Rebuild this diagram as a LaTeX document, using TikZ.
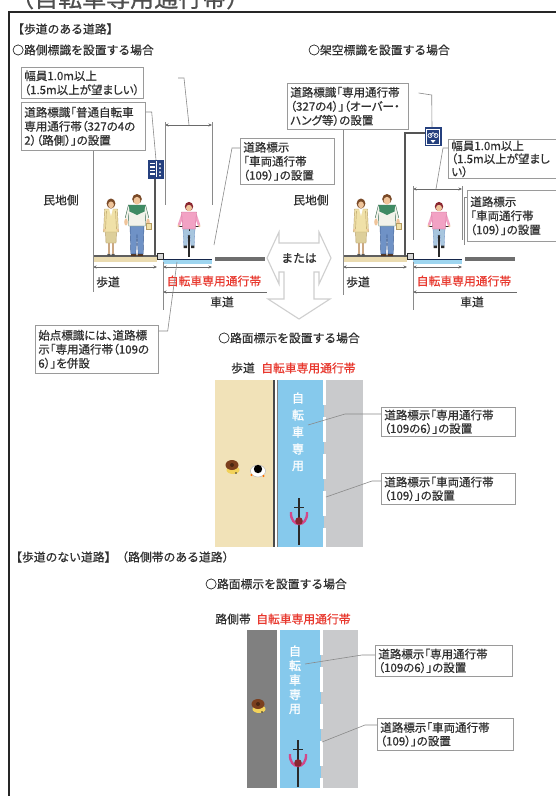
\documentclass[tikz,border=0pt]{standalone}
\usepackage{fontspec}
\setmainfont{Noto Sans CJK JP}[FakeBold=0.6]
\newfontfamily\pfont{Noto Sans CJK JP}[RawFeature=+palt,FakeBold=0.6]
\newfontfamily\lanefont{Noto Sans CJK JP}[FakeBold=1.5]
\usetikzlibrary{arrows.meta,calc}

\definecolor{ink}{HTML}{303030}
\definecolor{redtxt}{HTML}{E8382E}
\definecolor{boxline}{HTML}{9A9A9A}
\definecolor{leadgray}{HTML}{8A8A8A}
\definecolor{dimgray}{HTML}{6A6A6A}
\definecolor{frameink}{HTML}{262626}
\definecolor{walktan}{HTML}{F1E2B8}
\definecolor{sidetan}{HTML}{EADBB0}
\definecolor{lanesky}{HTML}{86C9EC}
\definecolor{lanesec}{HTML}{9FD6F0}
\definecolor{roadgray}{HTML}{C9CACC}
\definecolor{roaddark}{HTML}{6E6E6E}
\definecolor{shoulder}{HTML}{808080}
\definecolor{arrowgray}{HTML}{CFCFCF}
\definecolor{signnavy}{HTML}{25407E}
\definecolor{skin}{HTML}{EFC49A}
\definecolor{hairbrown}{HTML}{7A4A28}
\definecolor{hairred}{HTML}{8A2630}
\definecolor{jacket}{HTML}{F0E1A8}
\definecolor{jacketline}{HTML}{B59C62}
\definecolor{shirt}{HTML}{F2F2EA}
\definecolor{shirtgreen}{HTML}{3F8A64}
\definecolor{jeans}{HTML}{6F92C6}
\definecolor{jeansline}{HTML}{3D5D92}
\definecolor{jeanslt}{HTML}{A8C6DE}
\definecolor{pinkshirt}{HTML}{F2A2C4}
\definecolor{pinkline}{HTML}{C8688F}
\definecolor{bikeblack}{HTML}{2A2A2A}
\definecolor{armpink}{HTML}{D2488A}
\definecolor{hatbrown}{HTML}{7B3F1E}
\definecolor{capeyellow}{HTML}{F2D25A}

\tikzset{
  % standing woman, origin at her feet
  woman/.pic={
    \fill[bikeblack!80] (-3.6,-2.2) rectangle (-0.6,0) (0.6,-2.2) rectangle (3.6,0);
    \draw[skin!85!black, line width=1.5pt] (-1.9,-14) -- (-1.9,-2) (1.9,-14) -- (1.9,-2);
    \filldraw[fill=jacket!92!black, draw=jacketline, line width=0.4pt]
      (-5.6,-27) -- (5.6,-27) -- (5,-13) -- (-5,-13) -- cycle;
    \filldraw[fill=jacket, draw=jacketline, line width=0.4pt]
      (-6.4,-47) -- (6.4,-47) -- (7.4,-24) -- (-7.4,-24) -- cycle;
    \draw[jacketline, line width=0.4pt] (-4.6,-45) -- (-5.4,-27) (4.6,-45) -- (5.4,-27);
    \fill[white] (-1.8,-47) -- (1.8,-47) -- (0,-40) -- cycle;
    \fill[skin] (-6.6,-26) circle (1.3) (6.6,-26) circle (1.3);
    \fill[hairbrown] (0,-52.5) ellipse (4.4 and 5);
    \fill[skin] (0,-51.2) ellipse (2.9 and 3.4);
  },
  % standing man, origin at his feet
  man/.pic={
    \fill[hairbrown!70!black] (-6,-2.4) rectangle (-0.6,0) (0.6,-2.4) rectangle (6,0);
    \filldraw[fill=jeans, draw=jeansline, line width=0.4pt]
      (-7,-31) -- (7,-31) -- (6.2,-2.2) -- (1.2,-2.2) -- (0,-22) -- (-1.2,-2.2) -- (-6.2,-2.2) -- cycle;
    \filldraw[fill=shirt, draw=shirtgreen!70!black, line width=0.4pt]
      (-8.6,-51) -- (8.6,-51) -- (8.2,-30) -- (-8.2,-30) -- cycle;
    \fill[shirtgreen] (-8.6,-51) -- (8.6,-51) -- (8.4,-45) -- (0,-41) -- (-8.4,-45) -- cycle;
    \fill[shirt] (-8.6,-51) -- (-11.8,-38) -- (-9.6,-37) -- (-7.6,-46) -- cycle;
    \fill[shirt] (8.6,-51) -- (11.8,-38) -- (9.6,-37) -- (7.6,-46) -- cycle;
    \draw[shirtgreen!70!black, line width=0.4pt] (-8.6,-51) -- (-11.8,-38) (8.6,-51) -- (11.8,-38);
    \fill[skin] (-11,-34) ellipse (1.8 and 3.5) (11,-34) ellipse (1.8 and 3.5);
    \filldraw[fill=jacket, draw=jacketline, line width=0.3pt] (9.5,-33) rectangle (14,-27);
    \fill[hairbrown] (0,-57) ellipse (4.8 and 5);
    \fill[skin] (0,-55.3) ellipse (3.4 and 3.9);
  },
  % cyclist seen from the front, origin at the wheel contact point
  cyclist/.pic={
    \draw[bikeblack, line width=1.8pt] (0,-24) -- (0,0);
    \fill[bikeblack] (-1.5,-27) rectangle (1.5,-23);
    \filldraw[fill=jeanslt, draw=jeans, line width=0.3pt]
      (-6,-29) -- (6,-29) -- (5.2,-11) -- (2,-11) -- (1.2,-22) -- (-1.2,-22) -- (-2,-11) -- (-5.2,-11) -- cycle;
    \fill[bikeblack] (-5.4,-11.5) rectangle (-2,-9) (2,-11.5) rectangle (5.4,-9);
    \draw[bikeblack, line width=0.9pt] (-11,-31) -- (11,-31);
    \draw[bikeblack, line width=0.8pt] (0,-31) -- (0,-26);
    \draw[pinkshirt, line width=2.6pt, line cap=round] (-6.2,-43) -- (-10,-32) (6.2,-43) -- (10,-32);
    \filldraw[fill=pinkshirt, draw=pinkline, line width=0.3pt]
      (-7.4,-45) -- (7.4,-45) -- (6.4,-28) -- (-6.4,-28) -- cycle;
    \fill[skin] (-10.4,-31) circle (1.3) (10.4,-31) circle (1.3);
    \fill[hairred] (0,-50.5) ellipse (4.2 and 4.6);
    \fill[skin] (0,-49) ellipse (3 and 3.2);
  },
  % cyclist seen from above, origin at the body
  ridertop/.pic={
    \draw[bikeblack, line width=1.3pt] (0,-22) -- (0,25);
    \draw[bikeblack, line width=1pt] (-5,-13) -- (5,-13);
    \draw[armpink, line width=2.4pt] (-8,-8) .. controls (-9,8) and (9,8) .. (8,-8);
    \fill[hairred] (0,1) circle (3.8);
  },
  % pedestrian with a brown hat seen from above
  hattop/.pic={
    \fill[capeyellow] (1,5) ellipse (6.5 and 4);
    \fill[hatbrown] (0,0) ellipse (6.5 and 5);
    \fill[hatbrown!60!black] (0,0) circle (2);
    \fill[bikeblack] (4,8) circle (0.9);
  },
}

\begin{document}
\begin{tikzpicture}[x=1pt,y=-1pt,
  lbl/.style={font=\fontsize{11.8}{14}\selectfont, text=ink, inner sep=0pt},
  redlbl/.style={lbl, text=redtxt},
  notebox/.style={draw=boxline, line width=0.7pt, fill=white, anchor=north west, align=left,
    inner xsep=3pt, inner ysep=0pt, font=\pfont\fontsize{11.5}{14}\selectfont, text=ink},
  leadline/.style={draw=leadgray, line width=0.6pt},
  dimline/.style={draw=dimgray, line width=0.6pt},
  dimboth/.style={dimline, {Stealth[length=3.5pt,width=3pt]}-{Stealth[length=3.5pt,width=3pt]}},
  dimleft/.style={dimline, {Stealth[length=3.5pt,width=3pt]}-},
  lanetxt/.style={font=\lanefont\fontsize{12}{12}\selectfont, text=white, inner sep=0pt},
  pole/.style={draw=bikeblack!80, line width=1.6pt},
]
\useasboundingbox (0,0) rectangle (556,796);
\fill[white] (0,0) rectangle (556,796);

% page title running off the top edge
\begin{scope}
  \clip (0,0) rectangle (556,796);
  \node[anchor=base west, inner sep=0pt, font=\fontsize{24}{24}\selectfont, text=ink!85]
    (title) at (10,7) {（自転車専用通行帯）};
\end{scope}

% frame
\draw[frameink, line width=1.6pt] (556,12) -- (9,12) -- (9,796);

% section headings
\node[lbl, anchor=west] (secA) at (12,29) {【歩道のある道路】};
\node[lbl, anchor=west] (caseA1) at (12,50) {○路側標識を設置する場合};
\node[lbl, anchor=west] (caseA2) at (308,50) {○架空標識を設置する場合};
\node[lbl, anchor=west] (caseA3) at (218,338) {○路面標示を設置する場合};
\node[lbl, anchor=west] (secB) at (10,557) {【歩道のない道路】（路側帯のある道路）};
\node[lbl, anchor=west] (caseB1) at (205,584) {○路面標示を設置する場合};

% the two cross sections share ground, people and dimensions
\foreach \dx/\s in {0/L,250/R}{
  \begin{scope}[xshift=\dx]
    \fill[sidetan] (93,256) rectangle (157,262);
    \draw[bikeblack!75, line width=1.2pt] (93,256) -- (157,256);
    \filldraw[fill=white!85!black, draw=bikeblack, line width=0.5pt] (157,253) rectangle (163,259);
    \fill[lanesec] (163,259) rectangle (212,264);
    \draw[signnavy!60!black, line width=0.7pt] (163,259) -- (212,259);
    \fill[roaddark] (215,257) rectangle (265,261);
    \pic at (111,256) {woman};
    \pic at (137,256) {man};
    \pic at (189,257) {cyclist};
    \coordinate (swa\s) at (93,267);
    \coordinate (swb\s) at (157,267);
    \coordinate (bla\s) at (163,267);
    \coordinate (blb\s) at (212,267);
    \coordinate (rda\s) at (163,292);
    \coordinate (rdb\s) at (267,292);
    \coordinate (exa\s) at (163,262);
    \coordinate (exb\s) at (163,310);
    \draw[dimboth] (swa\s) -- (swb\s);
    \draw[dimboth] (bla\s) -- (blb\s);
    \draw[leadline] (exa\s) -- (exb\s);
    \draw[dimleft] (rda\s) -- (rdb\s);
    \node[lbl] (hodo\s) at (108,282) {歩道};
    \node[redlbl] (lane\s) at (214,281) {自転車専用通行帯};
    \node[lbl] (shado\s) at (222,302) {車道};
    \node[lbl] (minchi\s) at (61,200) {民地側};
  \end{scope}
}

% ---- roadside sign (left cross section)
\draw[pole] (155,179) -- (155,256);
\node[fill=signnavy, minimum width=16pt, minimum height=19pt, inner sep=0pt] (signL) at (156,169) {};
\begin{scope}[shift={(signL.center)}]
  \foreach \yy in {-6.5,-3,0.5,4} \fill[white] (-6,\yy) rectangle (-1.5,\yy+1.8);
  \draw[white, line width=0.6pt] (0.5,-8) -- (0.5,8);
  \foreach \yy in {-5,-1,3,6.5} \fill[white] (4,\yy) circle (1);
\end{scope}

% width of the cycle lane (left)
\coordinate (wdLa) at (165,125);
\coordinate (wdLb) at (212,125);
\coordinate (wdL) at (189,125);
\draw[dimboth] (wdLa) -- (wdLb);
\draw[leadline] (165,122) -- (165,205);
\draw[leadline] (212,122) -- (212,205);

% note boxes, left cross section
\node[notebox, text width=116pt, minimum height=31pt] (b1) at (21,67)
  {幅員1.0m以上\\（1.5m以上が望ましい）};
\node[notebox, text width=118pt, minimum height=48pt] (b2) at (21,102)
  {道路標識「普通自転車\\専用通行帯（327の4の\\2）（路側）」の設置};
\node[notebox, text width=88pt, minimum height=46pt] (b3) at (240,138)
  {道路標示\\「車両通行帯\\（109）」の設置};
\node[notebox, text width=117pt, minimum height=48pt] (b4) at (35,325)
  {始点標識には、道路標\\示「専用通行帯（109の\\6）」を併設};

\coordinate (l1s) at (178,78);
\draw[leadline] (l1s) -- (184,78) -- (wdL);
\coordinate (signLtop) at (156,160);
\draw[leadline] ($(b2.north east)+(0,10)$) -- ++(6,0) -- (signLtop);
\coordinate (wallL) at (93,292);
\draw[leadline] (b2.south -| wallL) -- (wallL);
\coordinate (laneEdgeL) at (214,245);
\draw[leadline] ($(b3.north west)+(0,10)$) -- ++(-8,0) -- (laneEdgeL);
\coordinate (laneStartL) at (177,262);
\draw[leadline] ($(b4.north east)+(0,6)$) -- ++(9,0) -- (laneStartL);

% ---- overhead sign (right cross section)
\coordinate (armEnd) at (425,133);
\draw[pole] (405,257) -- (405,133) -- (armEnd);
\node[fill=signnavy, minimum width=17pt, minimum height=19pt, inner sep=0pt] (signR) at (433,136.5) {};
\begin{scope}[shift={(signR.center)}]
  \draw[white, line width=0.6pt] (-6.5,-7.5) rectangle (6.5,7.5);
  \draw[white, line width=0.7pt] (-3,-1) circle (2) (3,-1) circle (2);
  \draw[white, line width=0.7pt] (-3,-1) -- (0,-4) -- (3,-1);
  \fill[white] (-2.5,3.5) -- (2.5,3.5) -- (0,6.5) -- cycle;
\end{scope}

\node[notebox, text width=115pt, minimum height=46pt] (b5) at (287,83)
  {道路標識「専用通行帯\\（327の4）」（オーバー・\\ハング等）の設置};
\node[notebox, text width=114pt, minimum height=39pt, font=\pfont\fontsize{11.5}{13}\selectfont] (b6) at (448,139)
  {幅員1.0m以上\\（1.5m以上が望まし\\い）};
\node[notebox, text width=83pt, minimum height=51pt] (b7) at (467,190)
  {道路標示\\「車両通行帯\\（109）」の設置};

\coordinate (signRtop) at (432,127);
\draw[leadline] ($(b5.north east)+(10,10)$) -- ++(13,2) -- (signRtop);
\coordinate (wallR) at (343,295);
\draw[leadline] (b5.south -| wallR) -- (wallR);
\coordinate (wdRa) at (413,189);
\coordinate (wdRb) at (462,189);
\coordinate (wdR) at (436,189);
\draw[dimboth] (wdRa) -- (wdRb);
\draw[leadline] (413,186) -- (413,240);
\draw[leadline] (462,186) -- (462,240);
\draw[leadline] ($(b6.north west)+(0,9)$) -- ++(-5,0) -- (wdR);
\coordinate (laneEdgeR) at (464,245);
\draw[leadline] ($(b7.north west)+(0,7)$) -- ++(-3,0) -- (laneEdgeR);

% ---- "or" arrow between the cross sections and down to the plans
\draw[arrowgray, line width=1.1pt, fill=white, line join=miter]
  (267,258) -- (279,232) -- (279,243) -- (319,243) -- (319,232) -- (331,258)
  -- (319,284) -- (319,272) -- (314,272) -- (314,299) -- (330,299) -- (299,319)
  -- (268,299) -- (284,299) -- (284,272) -- (279,272) -- (279,284) -- cycle;
\node[lbl] (mataha) at (299,258) {または};

% ---- plan with a sidewalk
\node[lbl, anchor=east] (hodoP) at (255,368) {歩道};
\node[redlbl, anchor=west] (laneP) at (261,368) {自転車専用通行帯};
\fill[walktan] (215,380) rectangle (273,547);
\fill[lanesky] (278,380) rectangle (324,547);
\fill[roadgray] (324,380) rectangle (363,547);
\draw[bikeblack!85, line width=2.2pt] (274.3,380) -- (274.3,547);
\draw[gray, line width=0.8pt] (277,380) -- (277,547);
\draw[white, line width=3pt, dash pattern=on 25pt off 12pt] (324.5,380) -- (324.5,547);
\foreach \c [count=\i] in {自,転,車,専,用}
  \node[lanetxt] (m\i) at (298,381+17*\i) {\c};
\pic at (232,465) {hattop};
\fill[white] (258,471) ellipse (7.5 and 6);
\draw[gray!60, line width=0.4pt] (258,471) ellipse (7.5 and 6);
\fill[black] (258,469) circle (4.2);
\fill[orange!85!red] (251.5,475) circle (1.2) (263.5,476) circle (1.2);
\pic at (299,520) {ridertop};

\node[notebox, text width=128pt, minimum height=29pt, font=\pfont\fontsize{11.5}{13.5}\selectfont] (b8) at (381,407)
  {道路標示「専用通行帯\\（109の6）」の設置};
\node[notebox, text width=128pt, minimum height=31pt, font=\pfont\fontsize{11.5}{13.5}\selectfont] (b9) at (381,473)
  {道路標示「車両通行帯\\（109）」の設置};
\coordinate (markP) at (308,425);
\draw[leadline] ($(b8.north west)+(0,7)$) -- ++(-36,0) -- (markP);
\coordinate (lineP) at (326,497);
\draw[leadline] ($(b9.north west)+(0,8)$) -- ++(-9,0) -- (lineP);

% ---- plan with a roadside strip
\node[lbl, anchor=east] (rokatai) at (251,619) {路側帯};
\node[redlbl, anchor=west] (laneQ) at (256,619) {自転車専用通行帯};
\fill[shoulder] (247,630) rectangle (277,788);
\fill[lanesky] (280,630) rectangle (321,788);
\fill[roadgray] (321,630) rectangle (358,788);
\draw[white, line width=3pt, dash pattern=on 25pt off 12pt] (321.5,630) -- (321.5,788);
\foreach \c [count=\i] in {自,転,車,専,用}
  \node[lanetxt] (n\i) at (295,636.5+14.5*\i) {\c};
\pic at (258,704) {hattop};
\pic at (298,762) {ridertop};

\node[notebox, text width=131pt, minimum height=31pt, font=\pfont\fontsize{11.5}{13.5}\selectfont] (b10) at (375,645)
  {道路標示「専用通行帯\\（109の6）」の設置};
\node[notebox, text width=130pt, minimum height=32pt, font=\pfont\fontsize{11.5}{13.5}\selectfont] (b11) at (377,718)
  {道路標示「車両通行帯\\（109）」の設置};
\coordinate (markQ) at (305,664);
\draw[leadline] ($(b10.north west)+(0,10)$) -- ++(-13,0) -- (markQ);
\coordinate (lineQ) at (322,742);
\draw[leadline] ($(b11.north west)+(0,7)$) -- ++(-12,0) -- (lineQ);

\end{tikzpicture}
\end{document}
